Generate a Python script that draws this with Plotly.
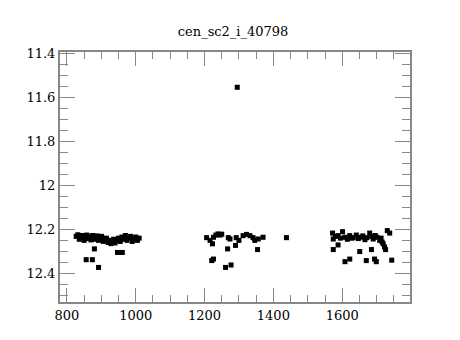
import plotly.graph_objects as go

title = "cen_sc2_i_40798"

# cluster 1
x1 = [827, 832, 836, 840, 845, 850, 854, 858, 862, 866, 870, 875, 879, 883, 888, 892, 897, 901, 906, 910,
      915, 920, 924, 928, 932, 936, 940, 945, 950, 955, 960, 965, 970, 975, 980, 985, 990, 995, 1000, 1005, 1010,
      880, 856, 874, 892, 947, 961]
y1 = [12.232, 12.225, 12.245, 12.238, 12.228, 12.250, 12.235, 12.226, 12.242, 12.232, 12.248, 12.228, 12.238, 12.245,
      12.230, 12.250, 12.240, 12.232, 12.255, 12.245, 12.240, 12.260, 12.250, 12.265, 12.255, 12.245, 12.262, 12.250,
      12.240, 12.255, 12.235, 12.245, 12.228, 12.250, 12.240, 12.232, 12.255, 12.245, 12.235, 12.250, 12.240,
      12.289, 12.338, 12.338, 12.373, 12.305, 12.305]

# cluster 2
x2 = [1206, 1216, 1223, 1226, 1233, 1239, 1245, 1250, 1269, 1274, 1292, 1300, 1312, 1322, 1332, 1341, 1346, 1356,
      1370, 1438, 1267, 1290, 1354, 1221, 1226, 1261, 1277, 1295]
y2 = [12.238, 12.250, 12.266, 12.236, 12.226, 12.221, 12.226, 12.222, 12.238, 12.244, 12.238, 12.250, 12.229, 12.223,
      12.229, 12.238, 12.250, 12.244, 12.236, 12.238, 12.289, 12.273, 12.292, 12.342, 12.335, 12.373, 12.362, 11.555]

# cluster 3
x3 = [1572, 1574, 1580, 1588, 1595, 1601, 1608, 1615, 1622, 1628, 1632, 1641, 1647, 1653, 1660, 1666, 1672, 1680,
      1686, 1690, 1696, 1701, 1709, 1713, 1716, 1719, 1723, 1726, 1731, 1738,
      1574, 1588, 1608, 1622, 1651, 1670, 1685, 1694, 1699, 1744]
y3 = [12.217, 12.244, 12.232, 12.229, 12.240, 12.211, 12.236, 12.245, 12.229, 12.240, 12.238, 12.226, 12.242, 12.236,
      12.230, 12.247, 12.238, 12.217, 12.232, 12.244, 12.228, 12.236, 12.250, 12.240, 12.258, 12.266, 12.280, 12.292,
      12.206, 12.217,
      12.292, 12.271, 12.347, 12.335, 12.301, 12.342, 12.292, 12.335, 12.347, 12.340]

x = x1 + x2 + x3
y = y1 + y2 + y3
err = [0.007] * len(x)

fig = go.Figure()
fig.add_trace(go.Scatter(
    x=x, y=y, mode="markers",
    marker=dict(symbol="square", size=5, color="black"),
    error_y=dict(type="data", array=err, color="black", thickness=1, width=2),
    showlegend=False,
))

font = dict(family="DejaVu Serif", size=13, color="black")
axis_common = dict(
    showline=True, linecolor="#888888", linewidth=2, mirror="allticks",
    ticks="inside", tickcolor="#888888", tickwidth=1,
    showgrid=False, zeroline=False, tickfont=font,
)
fig.update_xaxes(range=[780, 1797], tickvals=[800, 1000, 1200, 1400, 1600], ticklen=14,
                 minor=dict(dtick=50, tick0=800, ticks="inside", ticklen=7, tickcolor="#888888", tickwidth=1),
                 **axis_common)
fig.update_yaxes(range=[12.53, 11.395], tickvals=[11.4, 11.6, 11.8, 12, 12.2, 12.4],
                 ticktext=["11.4", "11.6", "11.8", "12", "12.2", "12.4"], ticklen=15,
                 minor=dict(dtick=0.05, tick0=11.4, ticks="inside", ticklen=8, tickcolor="#888888", tickwidth=1),
                 **axis_common)
fig.update_layout(
    width=452, height=332,
    margin=dict(l=52, r=50, t=44, b=38),
    paper_bgcolor="white", plot_bgcolor="white",
    title=dict(text=title, x=0.498, xanchor="center", y=0.928, yanchor="middle",
               font=dict(family="DejaVu Serif", size=13, color="black")),
)
fig.write_html("out.html")
